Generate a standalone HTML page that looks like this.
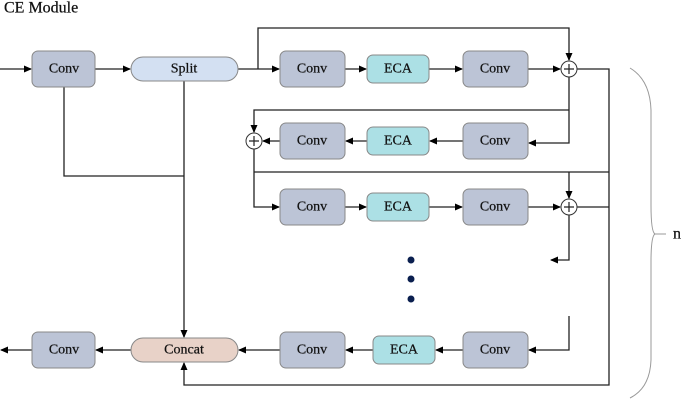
<!DOCTYPE html>
<html><head><style>body{margin:0;background:#fff}svg{display:block}text{font-family:"Liberation Serif",serif;font-size:14px;fill:#111;text-anchor:middle;dominant-baseline:central;stroke:#111;stroke-width:0.25}</style></head><body>
<svg width="685" height="400" viewBox="0 0 685 400" xmlns="http://www.w3.org/2000/svg">
<defs><marker id="a" markerWidth="8" markerHeight="8" refX="7" refY="4" orient="auto" markerUnits="userSpaceOnUse"><path d="M0,0.5 L8,4 L0,7.5z" fill="#000"/></marker></defs>
<text x="4" y="8" style="text-anchor:start;font-size:16px">CE Module</text>
<g fill="none" stroke="#222" stroke-width="1.3">
<path d="M0,69 H31" marker-end="url(#a)"/>
<path d="M95,69 H130" marker-end="url(#a)"/>
<path d="M238,69 H279" marker-end="url(#a)"/>
<path d="M258,69 V28 H569 V60" marker-end="url(#a)"/>
<path d="M345,69 H366" marker-end="url(#a)"/>
<path d="M429,69 H462" marker-end="url(#a)"/>
<path d="M528,69 H560" marker-end="url(#a)"/>
<path d="M577,69 H609 V385 H184 V363" marker-end="url(#a)"/>
<path d="M569,77 V143 H529" marker-end="url(#a)"/>
<path d="M463,141 H430" marker-end="url(#a)"/>
<path d="M367,141 H346" marker-end="url(#a)"/>
<path d="M280,141 H263" marker-end="url(#a)"/>
<path d="M569,110 H254 V132" marker-end="url(#a)"/>
<path d="M254,149 V207 H279" marker-end="url(#a)"/>
<path d="M254,172 H609"/>
<path d="M569,172 V198" marker-end="url(#a)"/>
<path d="M345,207 H366" marker-end="url(#a)"/>
<path d="M429,207 H462" marker-end="url(#a)"/>
<path d="M528,207 H560" marker-end="url(#a)"/>
<path d="M577,207 H609"/>
<path d="M569,215 V260 H551" marker-end="url(#a)"/>
<path d="M569,316 V350 H529" marker-end="url(#a)"/>
<path d="M463,350 H436" marker-end="url(#a)"/>
<path d="M373,350 H346" marker-end="url(#a)"/>
<path d="M280,350 H239" marker-end="url(#a)"/>
<path d="M131,350 H96" marker-end="url(#a)"/>
<path d="M32,350 H1" marker-end="url(#a)"/>
<path d="M64,87 V176 H184"/>
<path d="M184,81 V337" marker-end="url(#a)"/>
</g>
<g stroke="#888" stroke-width="1">
<rect x="32" y="51" width="63" height="36" rx="6" fill="#bcc4d6"/>
<rect x="131" y="57" width="107" height="24" rx="12" fill="#d3e0f2"/>
<rect x="280" y="51" width="65" height="36" rx="6" fill="#bcc4d6"/>
<rect x="367" y="55" width="62" height="28" rx="6" fill="#ace0e5"/>
<rect x="463" y="51" width="65" height="36" rx="6" fill="#bcc4d6"/>
<rect x="280" y="123" width="65" height="36" rx="6" fill="#bcc4d6"/>
<rect x="367" y="127" width="62" height="28" rx="6" fill="#ace0e5"/>
<rect x="463" y="123" width="65" height="36" rx="6" fill="#bcc4d6"/>
<rect x="280" y="189" width="65" height="36" rx="6" fill="#bcc4d6"/>
<rect x="367" y="193" width="62" height="28" rx="6" fill="#ace0e5"/>
<rect x="463" y="189" width="65" height="36" rx="6" fill="#bcc4d6"/>
<rect x="32" y="332" width="63" height="36" rx="6" fill="#bcc4d6"/>
<rect x="131" y="338" width="107" height="24" rx="12" fill="#e8d2c8"/>
<rect x="280" y="332" width="65" height="36" rx="6" fill="#bcc4d6"/>
<rect x="373" y="336" width="62" height="28" rx="6" fill="#ace0e5"/>
<rect x="463" y="332" width="65" height="36" rx="6" fill="#bcc4d6"/>
</g>
<g fill="#fff" stroke="#333" stroke-width="1">
<circle cx="569" cy="69" r="8"/><circle cx="254" cy="141" r="8"/><circle cx="569" cy="207" r="8"/>
</g>
<g stroke="#222" stroke-width="1.2">
<path d="M564,69h10M569,64v10M249,141h10M254,136v10M564,207h10M569,202v10"/>
</g>
<g fill="#0a1f4f"><circle cx="411" cy="260" r="3.5"/><circle cx="411" cy="279" r="3.5"/><circle cx="411" cy="299" r="3.5"/></g>
<path d="M630,68 Q650,80 651,110 V205 Q651,232 655,234 Q651,236 651,262 V360 Q650,388 630,398" fill="none" stroke="#999" stroke-width="1"/>
<path d="M655,234 H666" stroke="#999"/>
<text x="677" y="234" style="font-size:16px">n</text>
<text x="64" y="69">Conv</text><text x="184" y="69">Split</text>
<text x="312" y="69">Conv</text><text x="398" y="69">ECA</text><text x="495" y="69">Conv</text>
<text x="312" y="141">Conv</text><text x="398" y="141">ECA</text><text x="495" y="141">Conv</text>
<text x="312" y="207">Conv</text><text x="398" y="207">ECA</text><text x="495" y="207">Conv</text>
<text x="64" y="350">Conv</text><text x="184" y="350">Concat</text>
<text x="312" y="350">Conv</text><text x="404" y="350">ECA</text><text x="495" y="350">Conv</text>
</svg>
</body></html>
